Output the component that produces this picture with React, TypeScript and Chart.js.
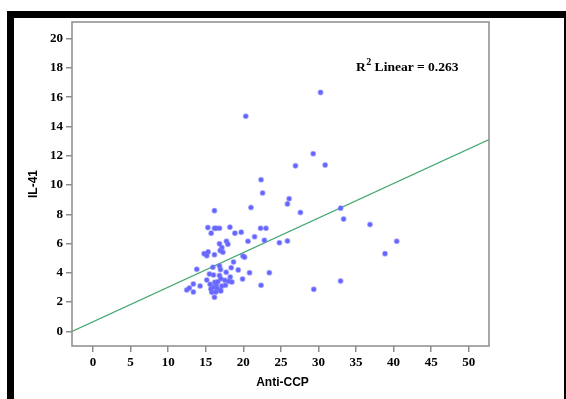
import React, { useEffect, useRef } from "react";
import { Chart, registerables } from "chart.js";

Chart.register(...registerables);

// Anti-CCP (x) and IL-41 (y) values
const antiCCP = [
  30.28, 20.33, 29.3, 26.94, 30.89, 22.36, 22.57, 26.1, 25.87, 27.6,
  21.02, 16.16, 32.95, 33.35, 36.86, 40.42, 38.86, 32.95, 29.38, 15.28,
  16.16, 16.39, 16.83, 18.22, 22.3, 23.02, 15.72, 18.88, 19.72, 21.5,
  20.62, 22.8, 24.8, 25.87, 17.76, 17.95, 16.83, 17.15, 16.92, 17.28,
  14.78, 15.32, 15.14, 16.16, 19.95, 20.17, 18.7, 16.83, 15.95, 18.39,
  13.81, 16.96, 19.32, 17.72, 20.83, 23.46, 15.49, 16.03, 16.83, 18.26,
  15.14, 17.01, 17.55, 19.9, 16.21, 16.61, 18.08, 18.48, 13.35, 15.58,
  16.39, 14.25, 17.15, 17.63, 16.03, 16.48, 15.68, 16.92, 12.47, 12.82,
  22.36, 13.35, 15.81, 16.35, 17.01, 16.16,
];
const il41 = [
  16.33, 14.7, 12.14, 11.31, 11.36, 10.36, 9.45, 9.06, 8.71, 8.12,
  8.46, 8.25, 8.42, 7.67, 7.3, 6.16, 5.31, 3.44, 2.87, 7.09,
  7.05, 7.05, 7.05, 7.12, 7.05, 7.05, 6.71, 6.71, 6.78, 6.47,
  6.16, 6.23, 6.06, 6.18, 6.16, 5.95, 5.98, 5.72, 5.52, 5.41,
  5.31, 5.43, 5.17, 5.24, 5.15, 5.07, 4.74, 4.47, 4.38, 4.35,
  4.24, 4.22, 4.2, 4.04, 4.01, 4.01, 3.92, 3.85, 3.81, 3.72,
  3.51, 3.6, 3.49, 3.58, 3.35, 3.39, 3.42, 3.37, 3.24, 3.22,
  3.15, 3.1, 3.1, 3.15, 3.01, 2.96, 2.9, 2.83, 2.83, 2.96,
  3.15, 2.69, 2.67, 2.69, 2.76, 2.33,
];

// Fit line end points (R² Linear = 0.263)
const fitX = [-2.8, 52.7];
const fitY = [0.0, 13.1];

const xTicks = [0, 5, 10, 15, 20, 25, 30, 35, 40, 45, 50];
const yTicks = [0, 2, 4, 6, 8, 10, 12, 14, 16, 18, 20];
const xTitle = "Anti-CCP";
const yTitle = "IL-41";
const r2Label = "0.263";

const frameColor = "#8c8c8c";

const decorPlugin = {
  id: "decor",
  beforeDraw(chart: any) {
    const ctx = chart.ctx;
    ctx.save();
    ctx.fillStyle = "#ffffff";
    ctx.fillRect(0, 0, chart.width, chart.height);
    ctx.restore();
  },
  afterDraw(chart: any) {
    const ctx = chart.ctx;
    const a = chart.chartArea;
    ctx.save();
    // outer black frame bars
    ctx.fillStyle = "#000000";
    ctx.fillRect(7, 11, chart.width - 7, 7);
    ctx.fillRect(7, 11, 7, chart.height - 11);
    ctx.fillRect(chart.width - 2, 11, 2, chart.height - 11);
    // plot frame
    ctx.strokeStyle = frameColor;
    ctx.lineWidth = 1.5;
    ctx.strokeRect(a.left, a.top, a.right - a.left, a.bottom - a.top);
    // axis titles
    ctx.fillStyle = "#000000";
    ctx.font = "bold 12px 'Liberation Sans', Arial, sans-serif";
    ctx.textAlign = "center";
    ctx.textBaseline = "middle";
    ctx.fillText(xTitle, (a.left + a.right) / 2 + 2, 383);
    ctx.save();
    ctx.translate(34, (a.top + a.bottom) / 2);
    ctx.rotate(-Math.PI / 2);
    ctx.fillText(yTitle, 0, 0);
    ctx.restore();
    // R² label
    ctx.textAlign = "left";
    ctx.textBaseline = "alphabetic";
    let x = 356;
    const base = 71;
    ctx.font = "bold 13.5px 'Liberation Serif', 'Times New Roman', serif";
    ctx.fillText("R", x, base);
    x += ctx.measureText("R").width;
    ctx.font = "bold 10px 'Liberation Serif', 'Times New Roman', serif";
    ctx.fillText("2", x + 0.5, base - 6);
    x += ctx.measureText("2").width + 0.5;
    ctx.font = "bold 13.5px 'Liberation Serif', 'Times New Roman', serif";
    ctx.fillText(" Linear = " + r2Label, x, base);
    ctx.restore();
  },
};

export default function App() {
  const ref = useRef<HTMLCanvasElement>(null);
  useEffect(() => {
    if (!ref.current) return;
    const points = antiCCP.map((v, i) => ({ x: v, y: il41[i] }));
    const line = fitX.map((v, i) => ({ x: v, y: fitY[i] }));
    const tickFont = { family: "'Liberation Serif', 'Times New Roman', serif", size: 13, weight: "bold" as const };
    const chart = new Chart(ref.current, {
      type: "scatter",
      data: {
        datasets: [
          {
            type: "line",
            data: line,
            borderColor: "#45a872",
            borderWidth: 1.2,
            pointRadius: 0,
            fill: false,
            order: 2,
          } as any,
          {
            type: "scatter",
            data: points,
            pointStyle: "circle",
            pointRadius: 2.3,
            backgroundColor: "#6464ff",
            borderColor: "rgba(120,120,255,0.5)",
            borderWidth: 1.4,
            order: 1,
          },
        ],
      },
      options: {
        responsive: false,
        animation: false,
        devicePixelRatio: 1,
        layout: { padding: { left: 0, top: 22, right: 77, bottom: 0 } },
        plugins: { legend: { display: false }, tooltip: { enabled: false } },
        scales: {
          x: {
            type: "linear",
            min: -2.8,
            max: 52.7,
            afterFit(scale: any) {
              scale.height = 53;
            },
            afterBuildTicks(scale: any) {
              scale.ticks = xTicks.map((v) => ({ value: v }));
            },
            border: { display: false },
            grid: { drawOnChartArea: false, drawTicks: true, tickLength: 6, color: frameColor, lineWidth: 1.5 },
            ticks: { color: "#000000", font: tickFont, padding: 3, maxRotation: 0, autoSkip: false },
          },
          y: {
            type: "linear",
            min: -1.0,
            max: 21.14,
            afterFit(scale: any) {
              scale.width = 72;
            },
            afterBuildTicks(scale: any) {
              scale.ticks = yTicks.map((v) => ({ value: v }));
            },
            border: { display: false },
            grid: { drawOnChartArea: false, drawTicks: true, tickLength: 6, color: frameColor, lineWidth: 1.5 },
            ticks: { color: "#000000", font: tickFont, padding: 3, autoSkip: false },
          },
        },
      },
      plugins: [decorPlugin],
    });
    return () => chart.destroy();
  }, []);
  return (
    <div style={{ position: "absolute", left: 0, top: 0, width: 566, height: 399 }}>
      <canvas ref={ref} width={566} height={399} />
    </div>
  );
}
